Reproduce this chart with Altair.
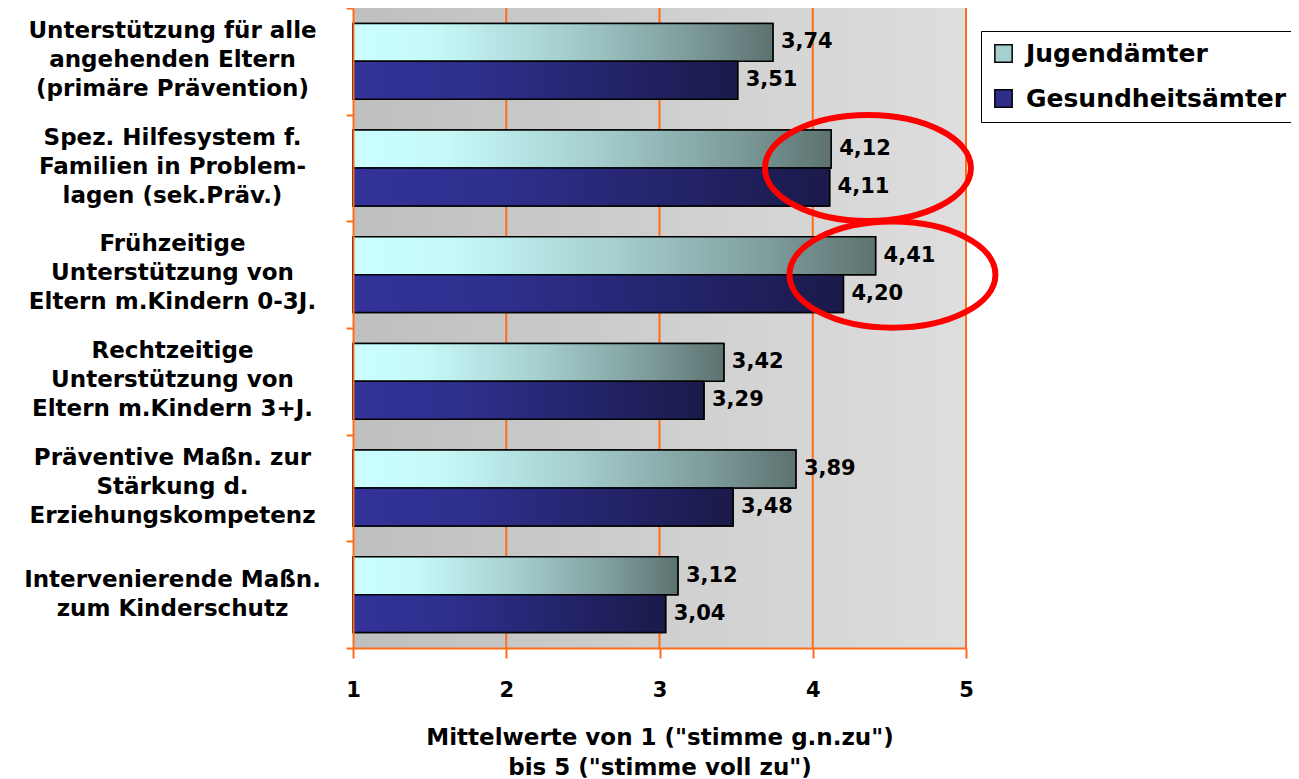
import altair as alt
import pandas as pd

# ---------------- data ----------------
categories = [
    "Unterstützung für alle|angehenden Eltern|(primäre Prävention)",
    "Spez. Hilfesystem f.|Familien in Problem-|lagen (sek.Präv.)",
    "Frühzeitige|Unterstützung von|Eltern m.Kindern 0-3J.",
    "Rechtzeitige|Unterstützung von|Eltern m.Kindern 3+J.",
    "Präventive Maßn. zur|Stärkung d.|Erziehungskompetenz",
    "Intervenierende Maßn.|zum Kinderschutz",
]
series = ["Jugendämter", "Gesundheitsämter"]
jugendaemter = [3.74, 4.12, 4.41, 3.42, 3.89, 3.12]
gesundheitsaemter = [3.51, 4.11, 4.20, 3.29, 3.48, 3.04]
x_ticks = [1, 2, 3, 4, 5]
grid_values = [2, 3, 4, 5]
highlight_categories = [categories[1], categories[2]]
highlight_centers = [4.36, 4.52]
title_text = "Frühe Hilfen sind in unserem Amt…"
x_title = ['Mittelwerte von 1 ("stimme g.n.zu")', 'bis 5 ("stimme voll zu")']

rows = []
for c, j, g in zip(categories, jugendaemter, gesundheitsaemter):
    rows.append({"cat": c, "series": series[0], "value": j})
    rows.append({"cat": c, "series": series[1], "value": g})
df = pd.DataFrame(rows)
range_df = pd.DataFrame({"lo": [x_ticks[0]], "hi": [x_ticks[-1]]})
grid_df = pd.DataFrame({"v": grid_values})
anno_df = pd.DataFrame({"cat": highlight_categories, "x": highlight_centers})

# ---------------- style ----------------
ORANGE = "#ff6d1a"
FONT = "DejaVu Sans"

bg_grad = alt.Gradient(
    gradient="linear", x1=0, x2=1, y1=0, y2=0,
    stops=[alt.GradientStop(color="#bfbfbf", offset=0),
           alt.GradientStop(color="#dedede", offset=1)],
)
grad_j = alt.Gradient(
    gradient="linear", x1=0, x2=1, y1=0, y2=0,
    stops=[alt.GradientStop(color="#cbffff", offset=0),
           alt.GradientStop(color="#c6f8f8", offset=0.2),
           alt.GradientStop(color="#a6cfcf", offset=0.5),
           alt.GradientStop(color="#7d9c9b", offset=0.8),
           alt.GradientStop(color="#5c7270", offset=1)],
)
grad_g = alt.Gradient(
    gradient="linear", x1=0, x2=1, y1=0, y2=0,
    stops=[alt.GradientStop(color="#333399", offset=0),
           alt.GradientStop(color="#2f2f8e", offset=0.3),
           alt.GradientStop(color="#232368", offset=0.7),
           alt.GradientStop(color="#1a1a4a", offset=1)],
)

ellipse_path = ("M -1 0 C -1 -0.2844 -0.5523 -0.515 0 -0.515 "
                "C 0.5523 -0.515 1 -0.2844 1 0 "
                "C 1 0.2844 0.5523 0.515 0 0.515 "
                "C -0.5523 0.515 -1 0.2844 -1 0 Z")

x_scale = alt.Scale(domain=[x_ticks[0], x_ticks[-1]], nice=False, zero=False)
x_axis = alt.Axis(
    values=x_ticks, grid=False, domainColor=ORANGE, domainWidth=2,
    tickColor=ORANGE, tickWidth=2, tickSize=10,
    labelFontSize=21, labelFontWeight="bold", labelColor="black", labelFont=FONT,
    labelPadding=21, labelFlush=False,
    titleFontSize=23, titleFontWeight="bold", titleColor="black", titleFont=FONT,
    titlePadding=26, titleLineHeight=30, zindex=1,
)
y_scale = alt.Scale(domain=categories, paddingInner=0, paddingOuter=0)
y_axis = alt.Axis(
    domainColor=ORANGE, domainWidth=2, tickColor=ORANGE, tickWidth=2, tickSize=7,
    tickBand="extent", labelAlign="center", labelBaseline="middle",
    labelPadding=174, labelLimit=400, labelFontSize=23, labelFontWeight="bold",
    labelColor="black", labelFont=FONT, labelLineHeight=29,
    labelExpr="split(datum.label, '|')",
    labelOffset=alt.condition("length(split(datum.value, '|')) == 2",
                              alt.value(-15), alt.value(-31)),
    zindex=1,
)
yoff_scale = alt.Scale(domain=series, paddingInner=0, paddingOuter=0.408)

X = lambda f: alt.X(f, scale=x_scale, axis=x_axis, title=x_title)
Y = alt.Y("cat:N", scale=y_scale, axis=y_axis, title=None, sort=categories)
YO = alt.YOffset("series:N", scale=yoff_scale, sort=series)

# ---------------- layers ----------------
bg = alt.Chart(range_df).mark_rect(fill=bg_grad).encode(x=X("lo:Q"), x2="hi:Q")

grid = alt.Chart(grid_df).mark_rule(color=ORANGE, strokeWidth=2).encode(x=X("v:Q"))

bars_legend = alt.Chart(df).mark_bar(stroke="black", strokeWidth=1.5).encode(
    x=X("value:Q"), x2=alt.datum(1), y=Y, yOffset=YO,
    color=alt.Color(
        "series:N",
        scale=alt.Scale(domain=series, range=["#a6d0d0", "#2e2e88"]),
        legend=alt.Legend(
            title=None, orient="none", legendX=628, legendY=23,
            strokeColor="black", fillColor="white", padding=10,
            symbolType="square", symbolSize=300, symbolStrokeColor="black",
            symbolStrokeWidth=1.5, labelFontSize=25, labelFontWeight="bold",
            labelFont=FONT, labelColor="black", labelOffset=10, rowPadding=19,
            labelLimit=400,
        ),
    ),
)

bars_j = alt.Chart(df).transform_filter(alt.datum.series == series[0]).mark_bar(
    fill=grad_j, stroke="black", strokeWidth=1.5
).encode(x=X("value:Q"), x2=alt.datum(1), y=Y, yOffset=YO)

bars_g = alt.Chart(df).transform_filter(alt.datum.series == series[1]).mark_bar(
    fill=grad_g, stroke="black", strokeWidth=1.5
).encode(x=X("value:Q"), x2=alt.datum(1), y=Y, yOffset=YO)

labels = alt.Chart(df).transform_calculate(
    label="replace(format(datum.value, '.2f'), '.', ',')"
).mark_text(
    align="left", baseline="middle", dx=8, fontSize=21, fontWeight="bold",
    font=FONT, color="black"
).encode(x=X("value:Q"), y=Y, yOffset=YO, text="label:N")

ellipses = alt.Chart(anno_df).mark_point(
    shape=ellipse_path, size=42436, filled=False, stroke="#ff0000",
    strokeWidth=6, opacity=1
).encode(x=X("x:Q"), y=Y)

chart = alt.layer(bg, grid, bars_legend, bars_j, bars_g, labels, ellipses).properties(
    width=613, height=640,
    title=alt.TitleParams(
        text=title_text, fontSize=44, fontWeight="bold", color="#66669d",
        font="Liberation Sans", anchor="start", dx=-375, offset=3,
    ),
    autosize=alt.AutoSizeParams(type="none"),
    padding={"left": 345, "top": 0, "right": 325, "bottom": 131},
).configure_view(strokeWidth=0).configure(font=FONT)

chart.save("out.html", embed_options={"renderer": "svg", "actions": False})
